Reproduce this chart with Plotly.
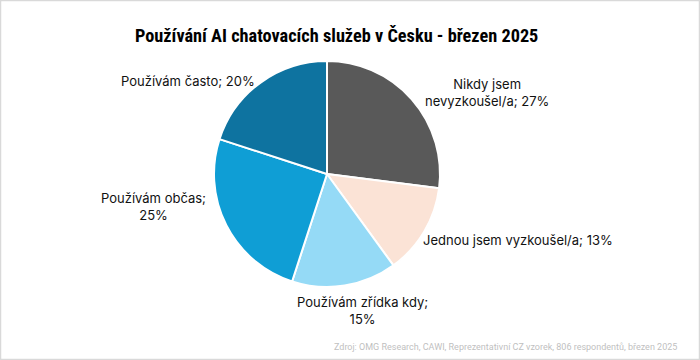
import plotly.graph_objects as go

# Data
categories = ["Nikdy jsem nevyzkoušel/a", "Jednou jsem vyzkoušel/a", "Používám zřídka kdy",
              "Používám občas", "Používám často"]
values = [27, 13, 15, 25, 20]
# label text with line breaks as in the reference
label_lines = ["Nikdy jsem<br>nevyzkoušel/a", "Jednou jsem vyzkoušel/a", "Používám zřídka kdy;<br>",
               "Používám občas;<br>", "Používám často"]
colors = ["#595959", "#FBE3D6", "#95DAF6", "#0F9ED5", "#0E73A0"]

# label positions (pixels in the 700x360 frame)
label_pos = [(487, 92), (518, 240), (362, 310), (153, 206), (188, 81)]

W, H = 700, 360
cx, cy, r = 327, 174, 113

fig = go.Figure(go.Pie(
    labels=categories, values=values, sort=False, direction="clockwise", rotation=0,
    marker=dict(colors=colors, line=dict(color="white", width=2)),
    textinfo="none", hoverinfo="label+percent", showlegend=False,
    domain=dict(x=[(cx - r) / W, (cx + r) / W], y=[1 - (cy + r) / H, 1 - (cy - r) / H]),
))

label_font = dict(family="Inter, Roboto, sans-serif", size=13, color="#111111")
for lab, v, (px, py) in zip(label_lines, values, label_pos):
    if lab.endswith("<br>"):
        txt = f"{lab}{v}%"
    else:
        txt = f"{lab}; {v}%"
    fig.add_annotation(x=px / W, y=1 - py / H, xref="paper", yref="paper", text=txt,
                       showarrow=False, xanchor="center", yanchor="middle", align="center",
                       font=label_font)

fig.add_annotation(x=336 / W, y=1 - 36 / H, xref="paper", yref="paper",
                   text="<b>Používání AI chatovacích služeb v Česku - březen 2025</b>",
                   showarrow=False, xanchor="center", yanchor="middle",
                   font=dict(family="Liberation Sans Narrow, Roboto Condensed, Arial Narrow, sans-serif",
                             size=18.3, color="#000000"))
fig.add_annotation(x=679 / W, y=1 - 347 / H, xref="paper", yref="paper",
                   text="Zdroj: OMG Research, CAWI, Reprezentativní CZ vzorek, 806 respondentů, březen 2025",
                   showarrow=False, xanchor="right", yanchor="middle",
                   font=dict(family="Roboto, sans-serif", size=9, color="#BFBFBF"))

fig.add_shape(type="rect", xref="paper", yref="paper", x0=0.5 / W, x1=1 - 0.5 / W,
              y0=0.5 / H, y1=1 - 0.5 / H, line=dict(color="#D9D9D9", width=1.5))

fig.update_layout(width=W, height=H, margin=dict(l=0, r=0, t=0, b=0),
                  paper_bgcolor="white", plot_bgcolor="white")

fig.write_html("out.html")
